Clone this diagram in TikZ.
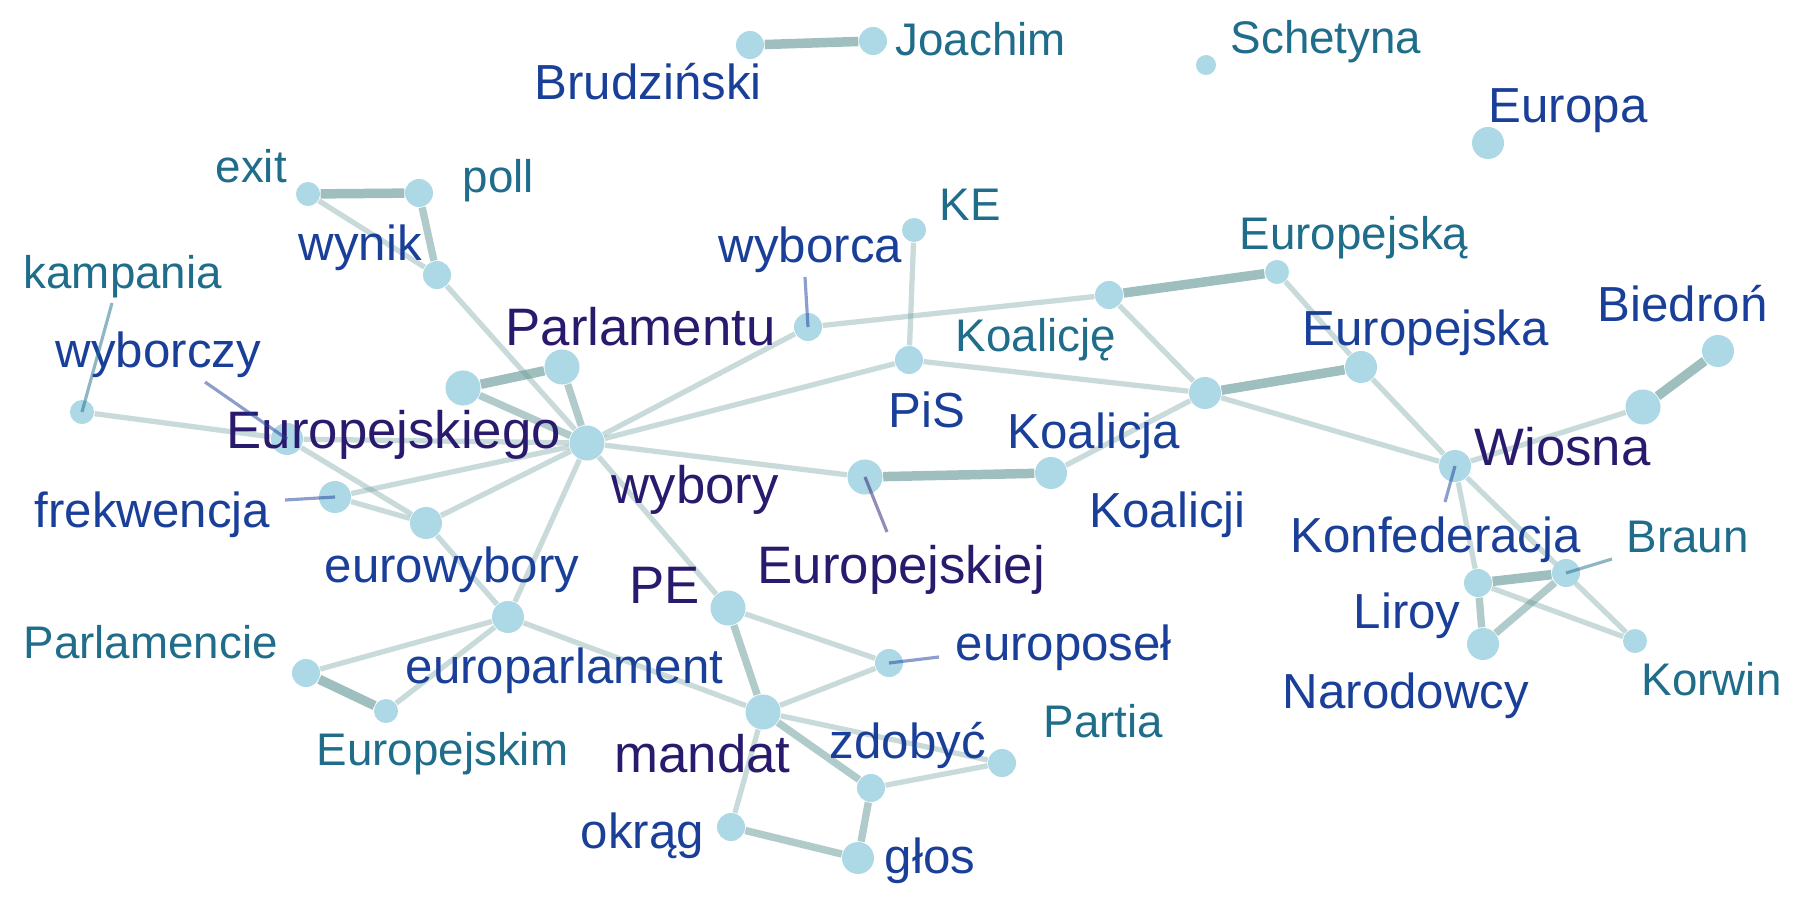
\documentclass[tikz,border=0pt]{standalone}
\usepackage{fontspec}
\setmainfont{Liberation Sans}
\usetikzlibrary{backgrounds}
\definecolor{nodeblue}{HTML}{ADD8E6}
\definecolor{edgecol}{RGB}{100,150,150}
\definecolor{wordP}{HTML}{2A1A6E}
\definecolor{wordB}{HTML}{1A3F99}
\definecolor{wordT}{HTML}{1F6D8A}
\tikzstyle{word} = [circle, fill=nodeblue, draw=none, inner sep=0pt, minimum size=0.28cm]
\tikzstyle{word_S} = [word, minimum size=0.24cm]
\tikzstyle{word_L} = [word, minimum size=0.32cm]
\tikzstyle{word_XL} = [word, minimum size=0.35cm]
\tikzstyle{label_P} = [anchor=base west, inner sep=0pt, text=wordP, font=\fontsize{15}{18}\selectfont]
\tikzstyle{label_B} = [anchor=base west, inner sep=0pt, text=wordB, font=\fontsize{14}{17}\selectfont]
\tikzstyle{label_T} = [anchor=base west, inner sep=0pt, text=wordT, font=\fontsize{13}{16}\selectfont]
\tikzstyle{edge_thin} = [draw=edgecol, line width=1.5pt, draw opacity=0.35]
\tikzstyle{edge_mid} = [draw=edgecol, line width=2.1pt, draw opacity=0.5]
\tikzstyle{edge_thick} = [draw=edgecol, line width=2.7pt, draw opacity=0.62]
\tikzstyle{lead_P} = [draw=wordP, line width=0.9pt, draw opacity=0.5]
\tikzstyle{lead_B} = [draw=wordB, line width=0.9pt, draw opacity=0.5]
\tikzstyle{lead_T} = [draw=wordT, line width=0.9pt, draw opacity=0.5]

\begin{document}
\begin{tikzpicture}[x=0.01cm, y=-0.01cm]
\useasboundingbox (0,0) rectangle (1800,900);

% Węzły (słowa)
\node (Brudzinski) [word] at (750,45) {};
\node (Joachim) [word] at (873,41) {};
\node (Schetyna) [word_S, minimum size=0.2cm] at (1206,65) {};
\node (Europa) [word_L] at (1488,143) {};
\node (exit) [word_S] at (308,194) {};
\node (poll) [word] at (419,193) {};
\node (wynik) [word] at (437,275) {};
\node (kampania) [word_S] at (82,412) {};
\node (wyborczy) [word_L] at (287,439) {};
\node (wyborca) [word] at (808,327) {};
\node (KE) [word_S] at (914,230) {};
\node (Parlamentu) [word_XL] at (562,367) {};
\node (Europejskiego) [word_XL] at (463,388) {};
\node (wybory) [word_XL] at (587,443) {};
\node (frekwencja) [word_L] at (335,497) {};
\node (eurowybory) [word_L] at (426,523) {};
\node (europarlament) [word_L] at (508,617) {};
\node (Parlamencie) [word] at (306,673) {};
\node (Europejskim) [word_S] at (386,711) {};
\node (PE) [word_XL] at (728,608) {};
\node (mandat) [word_XL] at (763,712) {};
\node (europosel) [word] at (889,663) {};
\node (zdobyc) [word] at (871,788) {};
\node (Partia) [word] at (1002,763) {};
\node (okrag) [word] at (731,827) {};
\node (glos) [word_L] at (858,858) {};
\node (Europejskiej) [word_XL] at (865,477) {};
\node (Koalicji) [word_L] at (1051,473) {};
\node (PiS) [word] at (909,360) {};
\node (Koalicje) [word] at (1109,295) {};
\node (Europejska_a) [word_S] at (1277,272) {};
\node (Koalicja) [word_L] at (1205,393) {};
\node (Europejska) [word_L] at (1361,367) {};
\node (Biedron) [word_L] at (1718,351) {};
\node (Wiosna) [word_XL] at (1643,407) {};
\node (Konfederacja) [word_L] at (1455,466) {};
\node (Liroy) [word] at (1478,583) {};
\node (Braun) [word] at (1566,573) {};
\node (Narodowcy) [word_L] at (1483,644) {};
\node (Korwin) [word_S] at (1635,641) {};

% Krawędzie
\begin{scope}[on background layer]
\draw [edge_thick] (Brudzinski) -- (Joachim);
\draw [edge_thick] (exit) -- (poll);
\draw [edge_thin] (exit) -- (wynik);
\draw [edge_mid] (poll) -- (wynik);
\draw [edge_thin] (wynik) -- (wybory);
\draw [edge_thin] (kampania) -- (wyborczy);
\draw [edge_thin] (wyborczy) -- (wybory);
\draw [edge_thin] (wyborczy) -- (eurowybory);
\draw [edge_thick] (Europejskiego) -- (Parlamentu);
\draw [edge_mid] (Europejskiego) -- (wybory);
\draw [edge_mid] (Parlamentu) -- (wybory);
\draw [edge_thin] (wybory) -- (frekwencja);
\draw [edge_thin] (wybory) -- (eurowybory);
\draw [edge_thin] (wybory) -- (europarlament);
\draw [edge_thin] (wybory) -- (PE);
\draw [edge_thin] (wybory) -- (wyborca);
\draw [edge_thin] (wybory) -- (PiS);
\draw [edge_thin] (wybory) -- (Europejskiej);
\draw [edge_thin] (frekwencja) -- (eurowybory);
\draw [edge_thin] (eurowybory) -- (europarlament);
\draw [edge_thin] (europarlament) -- (Parlamencie);
\draw [edge_thin] (europarlament) -- (Europejskim);
\draw [edge_thick] (Parlamencie) -- (Europejskim);
\draw [edge_thin] (europarlament) -- (mandat);
\draw [edge_mid] (PE) -- (mandat);
\draw [edge_thin] (PE) -- (europosel);
\draw [edge_thin] (mandat) -- (europosel);
\draw [edge_thin] (mandat) -- (okrag);
\draw [edge_mid] (mandat) -- (zdobyc);
\draw [edge_thin] (mandat) -- (Partia);
\draw [edge_thin] (zdobyc) -- (Partia);
\draw [edge_mid] (zdobyc) -- (glos);
\draw [edge_mid] (okrag) -- (glos);
\draw [edge_thin] (wyborca) -- (Koalicje);
\draw [edge_thin] (KE) -- (PiS);
\draw [edge_thin] (PiS) -- (Koalicja);
\draw [edge_thick] (Koalicje) -- (Europejska_a);
\draw [edge_thin] (Koalicje) -- (Koalicja);
\draw [edge_thin] (Europejska_a) -- (Europejska);
\draw [edge_thick] (Koalicja) -- (Europejska);
\draw [edge_thin] (Koalicja) -- (Konfederacja);
\draw [edge_thin] (Koalicja) -- (Koalicji);
\draw [edge_thin] (Europejska) -- (Konfederacja);
\draw [edge_thick] (Europejskiej) -- (Koalicji);
\draw [edge_thick] (Biedron) -- (Wiosna);
\draw [edge_thin] (Wiosna) -- (Konfederacja);
\draw [edge_thin] (Konfederacja) -- (Liroy);
\draw [edge_thin] (Konfederacja) -- (Korwin);
\draw [edge_thick] (Liroy) -- (Braun);
\draw [edge_thin] (Liroy) -- (Korwin);
\draw [edge_mid] (Liroy) -- (Narodowcy);
\draw [edge_mid] (Narodowcy) -- (Braun);
\end{scope}

% Etykiety
\node (L_Brudzinski) [label_B] at (534,100) {Brudziński};
\node (L_Joachim) [label_T] at (895,55) {Joachim};
\node (L_Schetyna) [label_T] at (1230,53) {Schetyna};
\node (L_Europa) [label_B] at (1488,122) {Europa};
\node (L_exit) [label_T] at (215,182) {exit};
\node (L_poll) [label_T] at (462,192) {poll};
\node (L_wynik) [label_B] at (298,260) {wynik};
\node (L_kampania) [label_T] at (23,288) {kampania};
\node (L_wyborczy) [label_B] at (55,367) {wyborczy};
\node (L_wyborca) [label_B] at (718,262) {wyborca};
\node (L_KE) [label_T] at (939,220) {KE};
\node (L_Parlamentu) [label_P] at (505,345) {Parlamentu};
\node (L_Europejskiego) [label_P] at (226,448) {Europejskiego};
\node (L_wybory) [label_P] at (611,503) {wybory};
\node (L_frekwencja) [label_B] at (34,527) {frekwencja};
\node (L_eurowybory) [label_B] at (324,582) {eurowybory};
\node (L_europarlament) [label_B] at (405,683) {europarlament};
\node (L_Parlamencie) [label_T] at (23,658) {Parlamencie};
\node (L_Europejskim) [label_T] at (316,765) {Europejskim};
\node (L_PE) [label_P] at (629,603) {PE};
\node (L_mandat) [label_P] at (614,772) {mandat};
\node (L_okrag) [label_B] at (580,848) {okrąg};
\node (L_europosel) [label_B] at (955,660) {europoseł};
\node (L_Partia) [label_T] at (1043,737) {Partia};
\node (L_zdobyc) [label_B] at (829,758) {zdobyć};
\node (L_glos) [label_B] at (884,873) {głos};
\node (L_Europejskiej) [label_P] at (757,583) {Europejskiej};
\node (L_Koalicji) [label_B] at (1089,527) {Koalicji};
\node (L_PiS) [label_B] at (888,427) {PiS};
\node (L_Koalicje) [label_T] at (955,351) {Koalicję};
\node (L_Europejska_a) [label_T] at (1239,249) {Europejską};
\node (L_Koalicja) [label_B] at (1007,448) {Koalicja};
\node (L_Europejska) [label_B] at (1302,345) {Europejska};
\node (L_Biedron) [label_B] at (1597,321) {Biedroń};
\node (L_Wiosna) [label_P] at (1474,465) {Wiosna};
\node (L_Konfederacja) [label_B] at (1290,552) {Konfederacja};
\node (L_Braun) [label_T] at (1626,552) {Braun};
\node (L_Liroy) [label_B] at (1353,628) {Liroy};
\node (L_Narodowcy) [label_B] at (1282,708) {Narodowcy};
\node (L_Korwin) [label_T] at (1641,695) {Korwin};

% Linie prowadzące do etykiet
\coordinate (K_kampania) at (112,303);
\coordinate (K_wyborczy) at (205,382);
\coordinate (K_wyborca) at (805,277);
\coordinate (K_frekwencja) at (285,500);
\coordinate (K_Europejskiej) at (887,532);
\coordinate (K_europosel) at (939,657);
\coordinate (K_Konfederacja) at (1445,502);
\coordinate (K_Braun) at (1612,559);
\draw [lead_T] (K_kampania) -- (kampania.center);
\draw [lead_B] (K_wyborczy) -- (wyborczy.center);
\draw [lead_B] (K_wyborca) -- (wyborca.center);
\draw [lead_B] (K_frekwencja) -- (frekwencja.center);
\draw [lead_P] (K_Europejskiej) -- (Europejskiej.center);
\draw [lead_B] (K_europosel) -- (europosel.center);
\draw [lead_B] (K_Konfederacja) -- (Konfederacja.center);
\draw [lead_T] (K_Braun) -- (Braun.center);

\end{tikzpicture}
\end{document}
